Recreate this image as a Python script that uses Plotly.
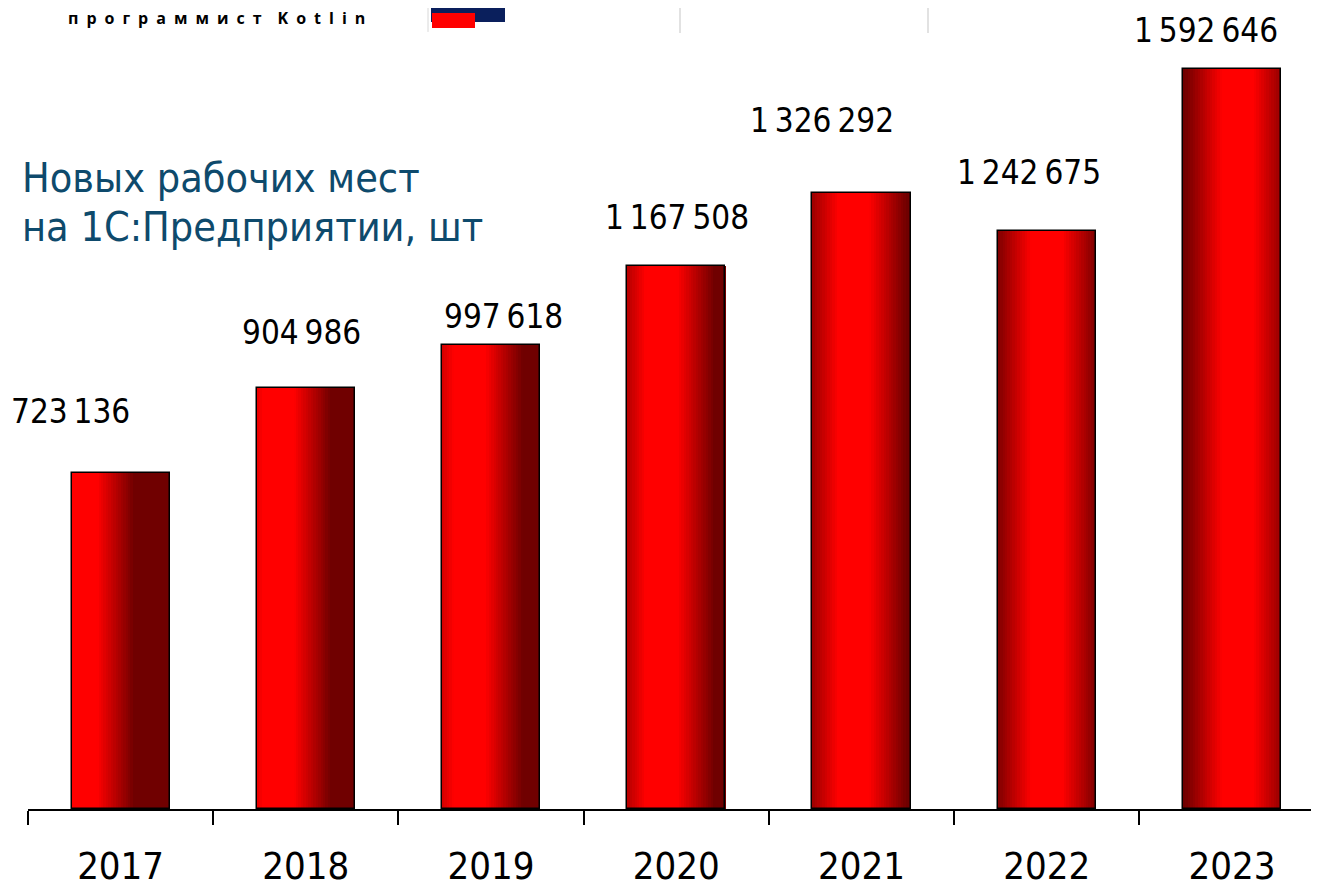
import plotly.graph_objects as go

# data
years = ["2017", "2018", "2019", "2020", "2021", "2022", "2023"]
new_seats = [723136, 904986, 997618, 1167508, 1326292, 1242675, 1592646]

# label nudges in pixels (the labels were placed by hand in the original)
label_dx = [-50, -4, 12, 1, -40, -18, -26]
label_dy = [61, 56, 29, 49, 72, 59, 38]
# where the bright band of each bar's gradient sits (0 = left edge, 1 = right)
glow_pos = [0.1, 0.22, 0.28, 0.35, 0.42, 0.5, 0.56]

FONT = "DejaVu Sans Condensed, DejaVu Sans, sans-serif"
BRIGHT = (255, 0, 0)
DARK = (112, 0, 0)
BAR_W = 0.53
N_SLICES = 40

OFF = 8  # page body margin
W, H = 1319 - OFF, 888 - OFF
L, B = 28 - OFF, 77


def px(x):
    return (x - OFF - L) / (W - L)


def py(y):
    return 1 - (y - OFF) / (H - B)


def shade(t, peak):
    d = abs(t - peak)
    f = 1 - (d - 0.16) / 0.38
    f = max(0.0, min(1.0, f))
    r, g, b = (int(DARK[i] + (BRIGHT[i] - DARK[i]) * f) for i in range(3))
    return f"rgb({r},{g},{b})"


def fmt(v):
    return f"{v:,}".replace(",", "\u2009")


fig = go.Figure()

# gradient faked with thin side-by-side slices
step = BAR_W / N_SLICES
for k in range(N_SLICES):
    t = (k + 0.5) / N_SLICES
    fig.add_trace(go.Bar(
        x=years, y=new_seats,
        width=step * 1.08, offset=-BAR_W / 2 + k * step,
        marker=dict(color=[shade(t, p) for p in glow_pos], line=dict(width=0)),
        hoverinfo="skip", showlegend=False,
    ))

# outline on top
fig.add_trace(go.Bar(
    x=years, y=new_seats, width=BAR_W, offset=-BAR_W / 2,
    marker=dict(color="rgba(0,0,0,0)", line=dict(color="black", width=1.5)),
    showlegend=False,
))

for i, (v, dx, dy) in enumerate(zip(new_seats, label_dx, label_dy)):
    fig.add_annotation(x=i, y=v, text=fmt(v), showarrow=False,
                       xshift=dx, yshift=dy, yanchor="middle",
                       font=dict(family=FONT, size=33, color="black"))

# title block on the left
for line, y in [("Новых рабочих мест", 178), ("на 1С:Предприятии, шт", 228)]:
    fig.add_annotation(x=px(20), y=py(y), xref="paper", yref="paper",
                       text=line, showarrow=False, xanchor="left", yanchor="middle",
                       font=dict(family=FONT, size=41, color="#0e4a6c"))

# cropped slide header bits
fig.add_annotation(x=px(66), y=py(18), xref="paper", yref="paper",
                   text="<b>" + "\u2002".join("программист") + "\u2003"
                        + "\u2002".join("Kotlin") + "</b>",
                   showarrow=False, xanchor="left", yanchor="middle",
                   font=dict(family="Open Sans, sans-serif", size=16, color="black"))
shapes = [
    dict(type="rect", x0=px(431), x1=px(505), y0=py(0), y1=py(22),
         fillcolor="#0a1f5c", line=dict(width=0)),
    dict(type="rect", x0=px(432), x1=px(475), y0=py(13), y1=py(28),
         fillcolor="#ff0000", line=dict(width=0)),
    dict(type="line", x0=px(428), x1=px(428), y0=py(0), y1=py(32),
         line=dict(color="#d8d8d8", width=1)),
    dict(type="line", x0=px(680), x1=px(680), y0=py(0), y1=py(33),
         line=dict(color="#d8d8d8", width=1.5)),
    dict(type="line", x0=px(928), x1=px(928), y0=py(0), y1=py(33),
         line=dict(color="#d8d8d8", width=1.5)),
    dict(type="rect", x0=px(860), x1=px(916), y0=py(0), y1=py(6),
         fillcolor="#ff0000", line=dict(color="#a00000", width=1.5)),
]
for s in shapes:
    s.update(xref="paper", yref="paper", layer="below")
fig.update_layout(shapes=shapes)

fig.update_layout(
    width=W, height=H,
    margin=dict(l=L, r=0, t=0, b=B),
    plot_bgcolor="white", paper_bgcolor="white",
    barmode="overlay", bargap=0,
    xaxis=dict(
        type="category", range=[-0.5, 6.47],
        showline=True, linecolor="black", linewidth=1.5,
        ticks="outside", tickson="boundaries", ticklen=14,
        tickcolor="black", tickwidth=1.5,
        ticktext=years, tickvals=years, ticklabelstandoff=23,
        tickfont=dict(family=FONT, size=38, color="black"),
        showgrid=False, zeroline=False,
    ),
    yaxis=dict(range=[0, (811 - OFF) / 742 * max(new_seats)],
               visible=False, showgrid=False),
)

fig.write_html("out.html")
